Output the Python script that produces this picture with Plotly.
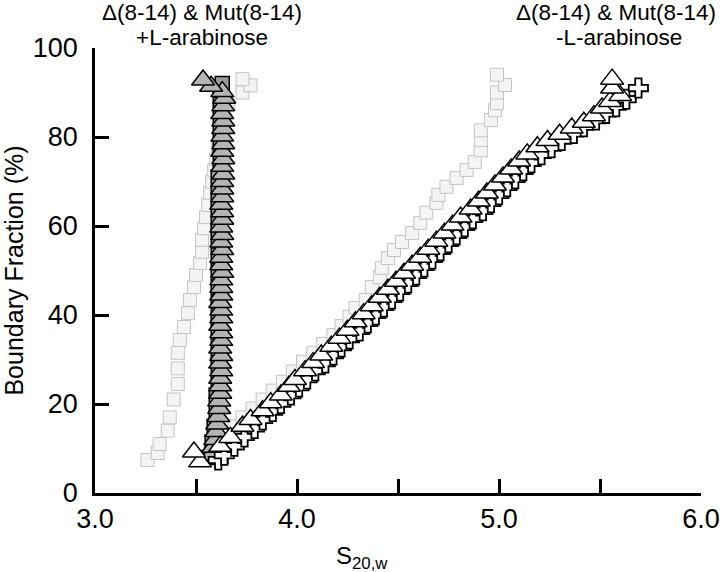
import plotly.graph_objects as go

# +L-arabinose, dotted reference squares
sq_plus_x = [3.26, 3.31, 3.32, 3.36, 3.37, 3.39, 3.41, 3.41, 3.41, 3.42, 3.44, 3.46, 3.47,
             3.49, 3.50, 3.52, 3.53, 3.53, 3.54, 3.55, 3.56, 3.57, 3.58, 3.59, 3.60, 3.61,
             3.62, 3.63, 3.64, 3.66, 3.73, 3.77, 3.73]
sq_plus_y = [7.4, 9.0, 11.0, 14.0, 17.0, 21.0, 24.5, 28.0, 31.5, 34.4, 37.3, 40.4, 43.4,
             46.3, 49.0, 51.7, 54.2, 56.9, 59.5, 62.0, 64.7, 67.5, 70.0, 72.5, 75.0, 77.5,
             80.0, 82.5, 85.0, 87.5, 90.0, 91.6, 93.0]

# -L-arabinose, dotted reference squares
sq_minus_x = [3.57, 3.61, 3.65, 3.69, 3.73, 3.78, 3.83, 3.88, 3.93, 3.98, 4.03, 4.08, 4.13,
              4.18, 4.22, 4.26, 4.29, 4.34, 4.37, 4.41, 4.42, 4.45, 4.48, 4.52, 4.57, 4.61,
              4.64, 4.69, 4.70, 4.74, 4.79, 4.84, 4.88, 4.91, 4.91, 4.91, 4.96, 4.98, 4.99,
              4.99, 5.03, 4.99]
sq_minus_y = [9.0, 11.0, 13.0, 15.0, 17.0, 19.0, 21.0, 23.0, 25.0, 27.3, 29.5, 31.5, 33.5,
              35.5, 37.5, 39.6, 41.6, 43.4, 46.3, 48.5, 50.6, 52.8, 54.6, 56.4, 58.4, 60.7,
              63.0, 65.2, 67.0, 68.8, 70.8, 72.6, 74.4, 77.0, 79.3, 81.5, 83.8, 86.0, 87.6,
              90.0, 91.7, 94.0]

# +L-arabinose, Mut(8-14) grey squares (mostly hidden)
mut_plus_x = [3.56, 3.58, 3.59, 3.60, 3.60, 3.61, 3.61, 3.61, 3.61, 3.61, 3.61, 3.61, 3.61,
              3.61, 3.61, 3.61, 3.61, 3.61, 3.61, 3.62, 3.62, 3.62, 3.62, 3.62, 3.62, 3.63]
mut_plus_y = [8.0, 11.5, 15.0, 18.5, 22.0, 25.5, 29.0, 32.5, 36.0, 39.5, 43.0, 46.5, 50.0,
              53.5, 57.0, 60.5, 64.0, 67.5, 71.0, 74.5, 78.0, 81.5, 85.0, 88.5, 90.5, 92.0]

# +L-arabinose, Delta(8-14) grey triangles
tri_plus_x = [3.575, 3.585, 3.595, 3.600, 3.605, 3.610, 3.615, 3.615, 3.620, 3.620, 3.620,
              3.625, 3.620, 3.625, 3.620, 3.625, 3.625, 3.620, 3.625, 3.625, 3.620, 3.625,
              3.625, 3.625, 3.630, 3.625, 3.625, 3.630, 3.625, 3.630, 3.625, 3.630, 3.630,
              3.625, 3.630, 3.630, 3.630, 3.635, 3.630, 3.635, 3.630, 3.635, 3.630, 3.635,
              3.635, 3.630, 3.635, 3.640, 3.630, 3.575, 3.535]
tri_plus_y = [8.5, 10.3, 12.0, 13.8, 15.5, 17.2, 19.0, 20.7, 22.4, 24.1, 25.8, 27.5, 29.2,
              30.9, 32.6, 34.3, 36.0, 37.7, 39.4, 41.1, 42.8, 44.5, 46.2, 47.9, 49.6, 51.3,
              53.0, 54.7, 56.4, 58.1, 59.8, 61.5, 63.2, 64.9, 66.6, 68.3, 70.0, 71.7, 73.4,
              75.1, 76.8, 78.5, 80.2, 81.9, 83.6, 85.3, 87.0, 88.7, 90.2, 91.4, 92.8]

# -L-arabinose, Mut(8-14) white crosses
crs_minus_x = [3.61, 3.64, 3.69, 3.74, 3.79, 3.83, 3.88, 3.92, 3.97, 4.01, 4.05, 4.09, 4.14,
               4.18, 4.22, 4.26, 4.31, 4.35, 4.39, 4.43, 4.47, 4.51, 4.55, 4.59, 4.63, 4.67,
               4.71, 4.75, 4.79, 4.83, 4.87, 4.92, 4.96, 5.00, 5.04, 5.08, 5.12, 5.16, 5.21,
               5.26, 5.31, 5.37, 5.42, 5.48, 5.53, 5.58, 5.63, 5.69]
crs_minus_y = [7.4, 8.5, 10.5, 12.6, 14.5, 16.4, 18.3, 20.1, 22.0, 23.8, 25.6, 27.4, 29.2,
               31.0, 32.8, 34.6, 36.4, 38.2, 40.0, 41.8, 43.6, 45.4, 47.2, 49.0, 50.8, 52.6,
               54.4, 56.2, 58.0, 59.8, 61.6, 63.4, 65.2, 67.0, 68.8, 70.6, 72.4, 74.2, 76.0,
               77.6, 79.2, 80.8, 82.3, 83.8, 85.3, 86.8, 88.5, 91.0]

# -L-arabinose, Delta(8-14) white triangles
tri_minus_x = [3.52, 3.49, 3.62, 3.67, 3.73, 3.77, 3.83, 3.87, 3.92, 3.96, 3.99, 4.04, 4.08,
               4.12, 4.17, 4.21, 4.25, 4.29, 4.33, 4.37, 4.41, 4.45, 4.49, 4.53, 4.57, 4.61,
               4.65, 4.69, 4.73, 4.77, 4.81, 4.86, 4.90, 4.94, 4.98, 5.02, 5.06, 5.10, 5.14,
               5.19, 5.24, 5.30, 5.36, 5.42, 5.47, 5.51, 5.55, 5.60, 5.56, 5.56]
tri_minus_y = [7.0, 9.2, 10.5, 12.5, 15.0, 16.5, 18.5, 20.3, 22.0, 24.0, 25.5, 27.5, 29.3,
               31.0, 33.0, 34.8, 36.6, 38.5, 40.3, 42.1, 44.0, 45.8, 47.6, 49.4, 51.2, 53.0,
               54.8, 56.6, 58.4, 60.2, 62.0, 63.8, 65.6, 67.4, 69.2, 71.0, 72.8, 74.6, 76.2,
               77.8, 79.2, 80.6, 82.0, 83.3, 84.8, 86.5, 88.0, 89.3, 91.0, 93.0]

FONT = "Liberation Sans, Arial, sans-serif"

fig = go.Figure()

for xs, ys in [(sq_plus_x, sq_plus_y), (sq_minus_x, sq_minus_y)]:
    fig.add_trace(go.Scatter(
        x=xs, y=ys, mode="markers",
        marker=dict(symbol="square", size=13, color="#f4f4f4",
                    line=dict(color="#c4c4c4", width=1)),
    ))

fig.add_trace(go.Scatter(
    x=mut_plus_x, y=mut_plus_y, mode="markers",
    marker=dict(symbol="square", size=14, color="#9a9a9a",
                line=dict(color="#000000", width=1.5)),
))

fig.add_trace(go.Scatter(
    x=tri_plus_x, y=tri_plus_y, mode="markers",
    marker=dict(symbol="triangle-up", size=20, color="#b4b4b4",
                line=dict(color="#000000", width=1.5)),
))

fig.add_trace(go.Scatter(
    x=crs_minus_x, y=crs_minus_y, mode="markers",
    marker=dict(symbol="cross", size=16, color="#ffffff",
                line=dict(color="#000000", width=1.8)),
))

fig.add_trace(go.Scatter(
    x=tri_minus_x, y=tri_minus_y, mode="markers",
    marker=dict(symbol="triangle-up", size=20, color="#ffffff",
                line=dict(color="#000000", width=1.5)),
))

axis_common = dict(
    showline=True, linecolor="black", linewidth=2.5, mirror=False,
    ticks="inside", ticklen=14, tickwidth=2.5, tickcolor="black",
    showgrid=False, zeroline=False, automargin=False,
    tickfont=dict(family=FONT, size=27, color="black"),
)

fig.update_xaxes(
    range=[3, 6],
    tickvals=[3, 3.5, 4, 4.5, 5, 5.5, 6],
    ticktext=["3.0", "", "4.0", "", "5.0", "", "6.0"],
    ticklabeloverflow="allow",
    **axis_common,
)
fig.update_yaxes(
    range=[0, 100],
    tickvals=[0, 20, 40, 60, 80, 100],
    ticklabelstandoff=9,
    title=dict(text="Boundary Fraction (%)", font=dict(family=FONT, size=25, color="black"),
               standoff=15),
    **axis_common,
)

# x-axis title, set left of centre as in the original figure
fig.add_annotation(x=4.32, y=-0.105, xref="x", yref="paper", text="S<sub>20,w</sub>",
                   showarrow=False, xanchor="center", yanchor="top",
                   font=dict(family=FONT, size=24, color="black"))

labels = [
    (0.176, "center", 1.079, "\u0394(8-14) & Mut(8-14)"),
    (0.176, "center", 1.024, "+L-arabinose"),
    (1.028, "right", 1.079, "\u0394(8-14) & Mut(8-14)"),
    (0.864, "center", 1.024, "-L-arabinose"),
]
for x, anchor, y, t in labels:
    fig.add_annotation(x=x, y=y, xref="paper", yref="paper", text=t, showarrow=False,
                       xanchor=anchor, yanchor="middle",
                       font=dict(family=FONT, size=22.5, color="black"))

fig.update_layout(
    width=720, height=572,
    margin=dict(l=95, r=19, t=48, b=79),
    plot_bgcolor="white", paper_bgcolor="white",
    showlegend=False,
)

# drop the browser's default page margin so the figure sits at the window's corner
fig.write_html("out.html", config={"displayModeBar": False},
               post_script="document.body.style.margin = '0px';")
